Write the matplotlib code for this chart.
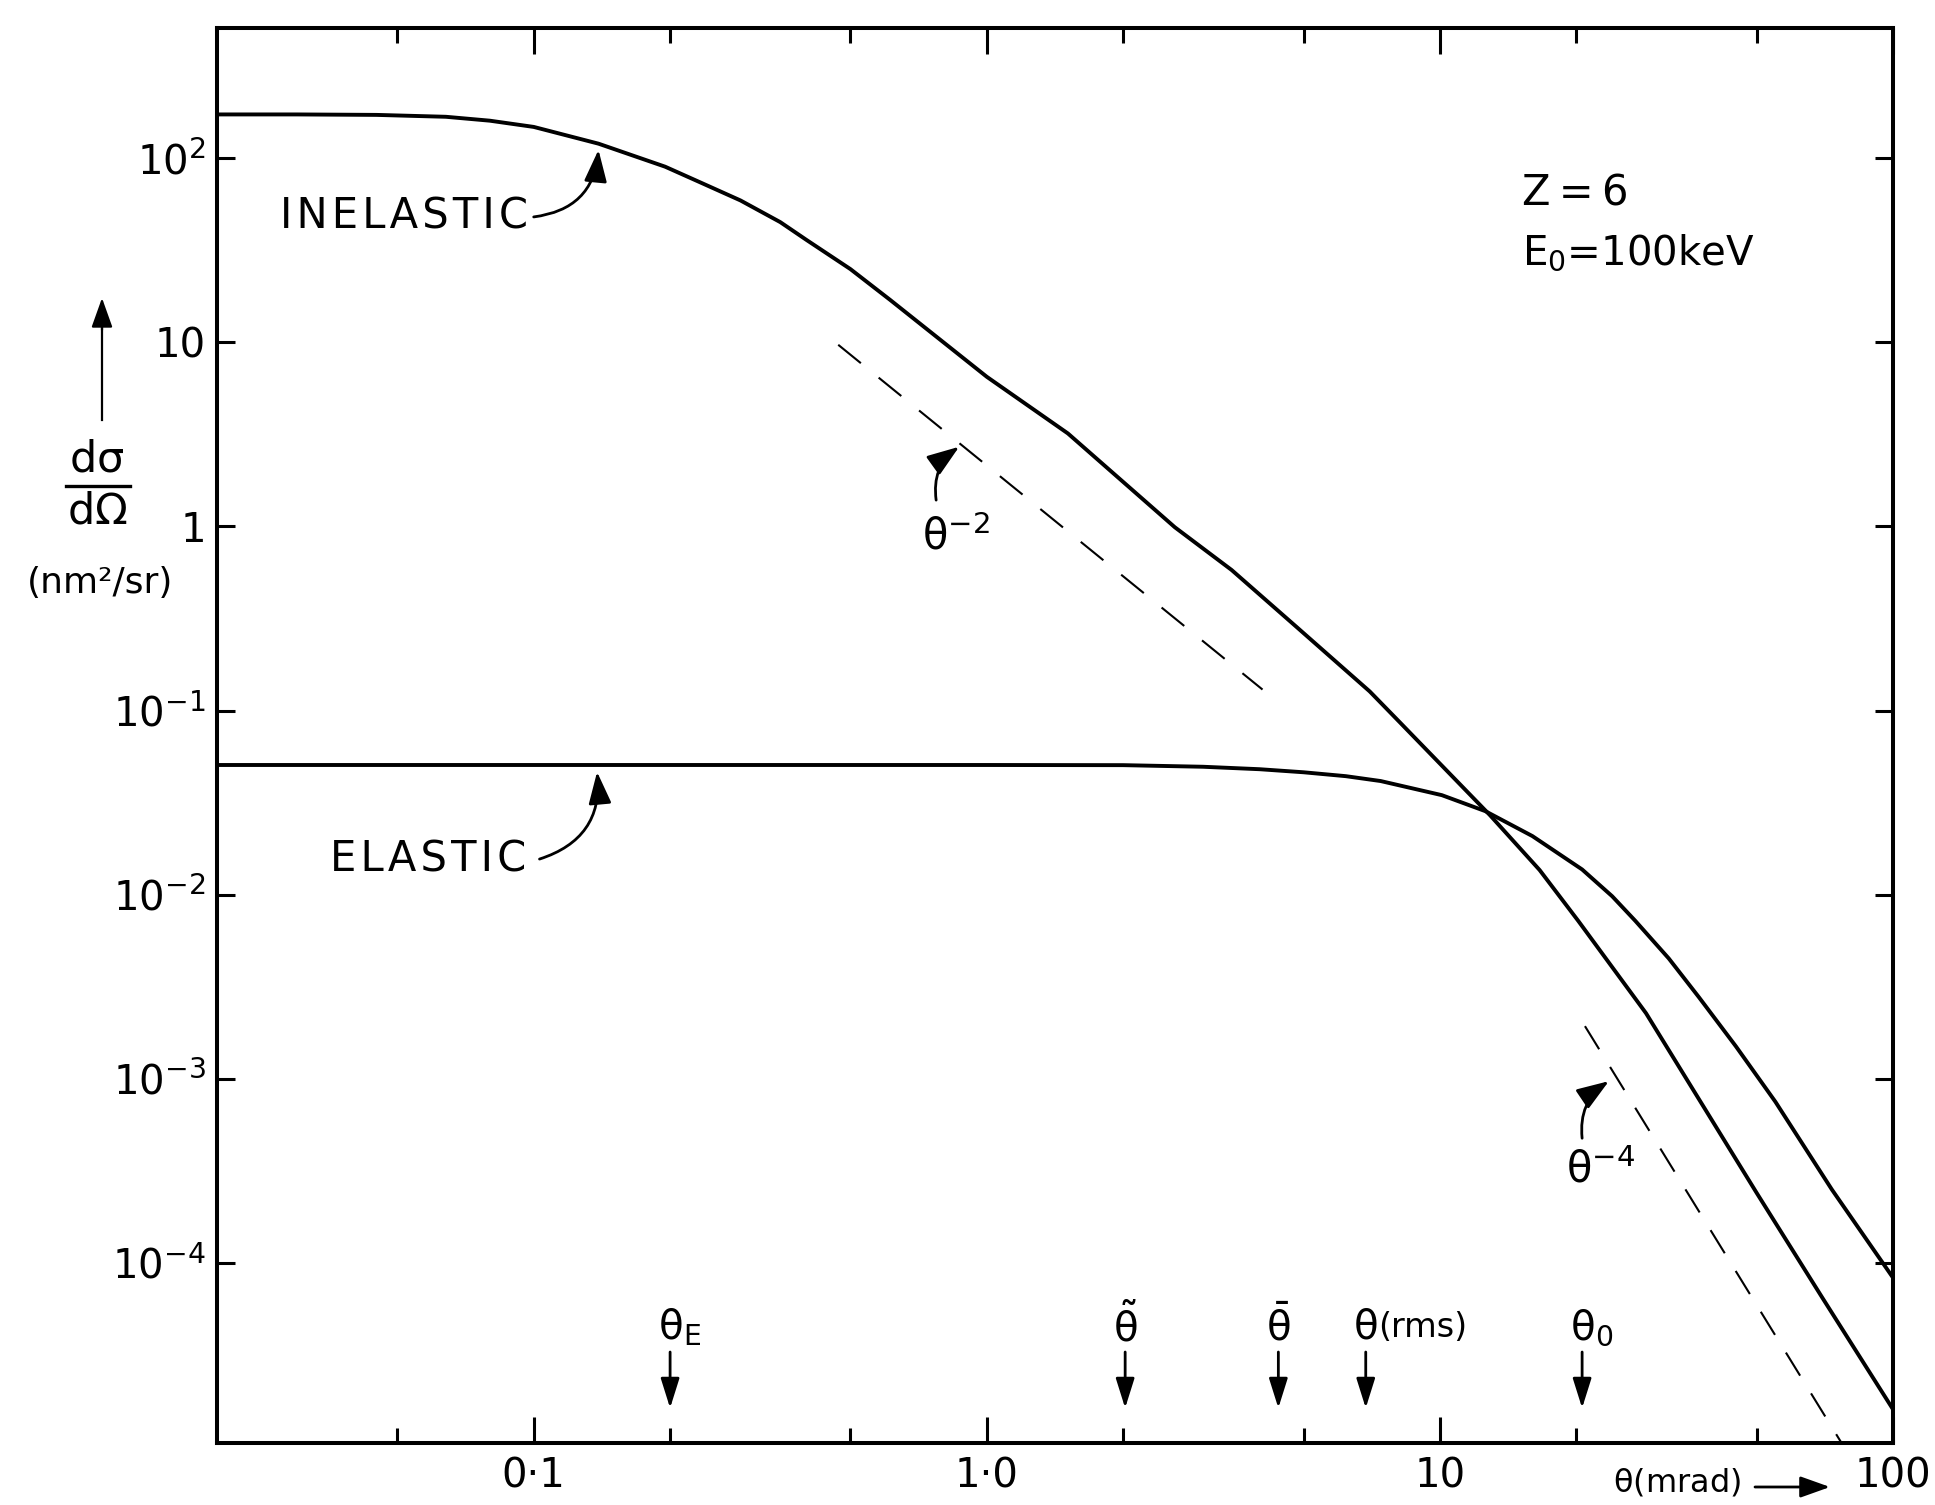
import numpy as np
import matplotlib.pyplot as plt
import matplotlib.transforms as mtransforms
from matplotlib.ticker import NullFormatter, NullLocator

plt.rcParams['font.family'] = ['DejaVu Sans']
plt.rcParams['mathtext.fontset'] = 'dejavusans'
plt.rcParams['mathtext.default'] = 'regular'

# curves: theta (mrad) vs d(sigma)/d(Omega) (nm^2/sr)
inel_theta = [0.02, 0.03, 0.045, 0.064, 0.08, 0.1, 0.139, 0.195, 0.233, 0.286, 0.35, 0.40, 0.5, 0.612,
              1.0, 1.51, 2.6, 3.47, 4.83, 7.0, 8.15, 12.9, 16.6, 20.2, 28.5, 50, 70, 100]
inel_sigma = [173, 173, 172, 168, 160, 148, 120, 90, 74, 59, 45, 36, 25, 17,
              6.5, 3.2, 0.99, 0.58, 0.284, 0.127, 0.0865, 0.027, 0.0136, 0.0072, 2.27e-3, 2.4e-4, 6.4e-5, 1.6e-5]

el_theta = [0.02, 0.1, 0.5, 1.0, 2.0, 3.0, 4.0, 5.0, 6.2, 7.4, 10.1, 12.6, 16.0, 20.6, 24, 27, 32,
            37.3, 45, 55, 73.3, 100]
el_sigma = [0.0506, 0.0506, 0.0506, 0.0506, 0.0505, 0.0495, 0.048, 0.0462, 0.044, 0.0414, 0.0347,
            0.0284, 0.0208, 0.0137, 9.8e-3, 7.2e-3, 4.5e-3, 2.77e-3, 1.5e-3, 7.5e-4, 2.5e-4, 8.3e-5]

# asymptotes
slope2_theta = [0.47, 4.06]
slope2_sigma = [9.7, 0.13]
slope4_theta = [20.9, 77]
slope4_sigma = [1.93e-3, 1.05e-5]

# characteristic angles marked along the bottom
marker_theta = [0.2, 2.02, 4.4, 6.86, 20.6]
marker_labels = [r'$\theta_E$', r'$\tilde{\theta}$', r'$\bar{\theta}$', r'$\theta$', r'$\theta_0$']
marker_suffix = ['', '', '', '(rms)', '']
marker_centered = [False, True, True, True, False]

x_major = [0.1, 1, 10, 100]
x_major_labels = ['0·1', '1·0', '10', '100']
x_minor = [0.05, 0.2, 0.5, 2, 5, 20, 50]
y_major = [1e2, 10, 1, 1e-1, 1e-2, 1e-3, 1e-4]
y_major_labels = [r'$10^{2}$', '10', '1', r'$10^{-1}$', r'$10^{-2}$', r'$10^{-3}$', r'$10^{-4}$']

W, H = 1935, 1505


def fx(px):
    return px / W


def fy(py):
    return 1 - py / H


fig = plt.figure(figsize=(W / 100, H / 100), dpi=100)
ax = fig.add_axes([fx(217), fy(1443), fx(1893) - fx(217), fy(28) - fy(1443)])
ax.set_xscale('log')
ax.set_yscale('log')
ax.set_xlim(0.02, 100)
ax.set_ylim(1.05e-5, 510)

ax.plot(inel_theta, inel_sigma, color='k', lw=2.8, solid_joinstyle='round')
ax.plot(el_theta, el_sigma, color='k', lw=2.8, solid_joinstyle='round')
ax.plot(slope2_theta, slope2_sigma, color='k', lw=1.5, linestyle=(0, (14, 11)))
ax.plot(slope4_theta, slope4_sigma, color='k', lw=1.5, linestyle=(0, (13, 10)))

for s in ax.spines.values():
    s.set_linewidth(2.9)

ax.set_xticks(x_major)
ax.set_xticklabels(x_major_labels)
ax.set_xticks(x_minor, minor=True)
ax.xaxis.set_minor_formatter(NullFormatter())
ax.set_yticks(y_major)
ax.set_yticklabels(y_major_labels)
ax.yaxis.set_minor_locator(NullLocator())
ax.tick_params(which='both', direction='in', top=True, right=True, width=2.2, labelsize=29)
ax.tick_params(axis='x', which='major', length=19, pad=10)
ax.tick_params(axis='x', which='minor', length=11)
ax.tick_params(axis='y', which='major', length=13, pad=8)

arrow_kw = dict(arrowstyle='-|>,head_length=0.7,head_width=0.25', color='k', lw=2,
                mutation_scale=28, shrinkA=0, shrinkB=0)

# curve labels
hs = '\u200a'
ax.text(0.0275, 48, hs.join('INELASTIC'), fontsize=30, va='center', ha='left')
ax.annotate('', xy=(0.139, 111), xytext=(0.1, 48),
            arrowprops=dict(connectionstyle='arc3,rad=0.4', **arrow_kw))
ax.text(0.0355, 0.0156, hs.join('ELASTIC'), fontsize=30, va='center', ha='left')
ax.annotate('', xy=(0.138, 0.0464), xytext=(0.103, 0.0156),
            arrowprops=dict(connectionstyle='arc3,rad=0.4', **arrow_kw))

ax.text(0.72, 0.745, r'$\theta^{-2}$', fontsize=30, va='baseline', ha='left')
ax.annotate('', xy=(0.869, 2.71), xytext=(0.773, 1.39),
            arrowprops=dict(connectionstyle='arc3,rad=-0.3', **arrow_kw))
ax.text(19.0, 2.74e-4, r'$\theta^{-4}$', fontsize=30, va='baseline', ha='left')
ax.annotate('', xy=(23.6, 9.7e-4), xytext=(20.6, 4.75e-4),
            arrowprops=dict(connectionstyle='arc3,rad=-0.3', **arrow_kw))

# parameters
fig.text(fx(1522), fy(193), 'Z\u2009=\u20096', fontsize=30, va='center', ha='left')
fig.text(fx(1522), fy(253), r'E$_0$=100keV', fontsize=29, va='center', ha='left')

# characteristic angle arrows
trans = mtransforms.blended_transform_factory(ax.transData, ax.transAxes)
for t, lab, suf, cen in zip(marker_theta, marker_labels, marker_suffix, marker_centered):
    ax.annotate('', xy=(t, 0.0247), xytext=(t, 0.0643), xycoords=trans, textcoords=trans,
                arrowprops=dict(arrowstyle='-|>,head_length=0.7,head_width=0.22', color='k', lw=2,
                                mutation_scale=26, shrinkA=0, shrinkB=0))
    if cen:
        ax.text(t, 0.0813, lab, transform=trans, fontsize=29, ha='center', va='center')
    else:
        ax.annotate(lab, xy=(t, 0.0813), xycoords=trans, xytext=(-9, 0), textcoords='offset points',
                    fontsize=29, ha='left', va='center')
    if suf:
        ax.annotate(suf, xy=(t, 0.0813), xycoords=trans, xytext=(9, 0), textcoords='offset points',
                    fontsize=24, ha='left', va='center')

# y axis label
fig.text(fx(97), fy(460), r'd$\sigma$', fontsize=31, ha='center', va='center')
fig.add_artist(plt.Line2D([fx(66), fx(130)], [fy(486), fy(486)], color='k', lw=2.4))
fig.text(fx(97), fy(512), r'd$\Omega$', fontsize=31, ha='center', va='center')
fig.text(fx(100), fy(583), '(nm²/sr)', fontsize=26, ha='center', va='center')
fig.add_artist(plt.Line2D([fx(102), fx(102)], [fy(420), fy(320)], color='k', lw=1.6))
ax.annotate('', xy=(fx(102), fy(298)), xytext=(fx(102), fy(330)), xycoords='figure fraction',
            textcoords='figure fraction',
            arrowprops=dict(arrowstyle='-|>,head_length=0.7,head_width=0.25', color='k', lw=1.6,
                            mutation_scale=26, shrinkA=0, shrinkB=0))

# x axis label
fig.text(fx(1613), fy(1483), r'$\theta$(mrad)', fontsize=23, ha='left', va='center')
ax.annotate('', xy=(fx(1830), fy(1487)), xytext=(fx(1755), fy(1487)), xycoords='figure fraction',
            textcoords='figure fraction',
            arrowprops=dict(arrowstyle='-|>,head_length=0.7,head_width=0.25', color='k', lw=2,
                            mutation_scale=26, shrinkA=0, shrinkB=0))

fig.savefig('out.png', dpi=100, facecolor='white')
